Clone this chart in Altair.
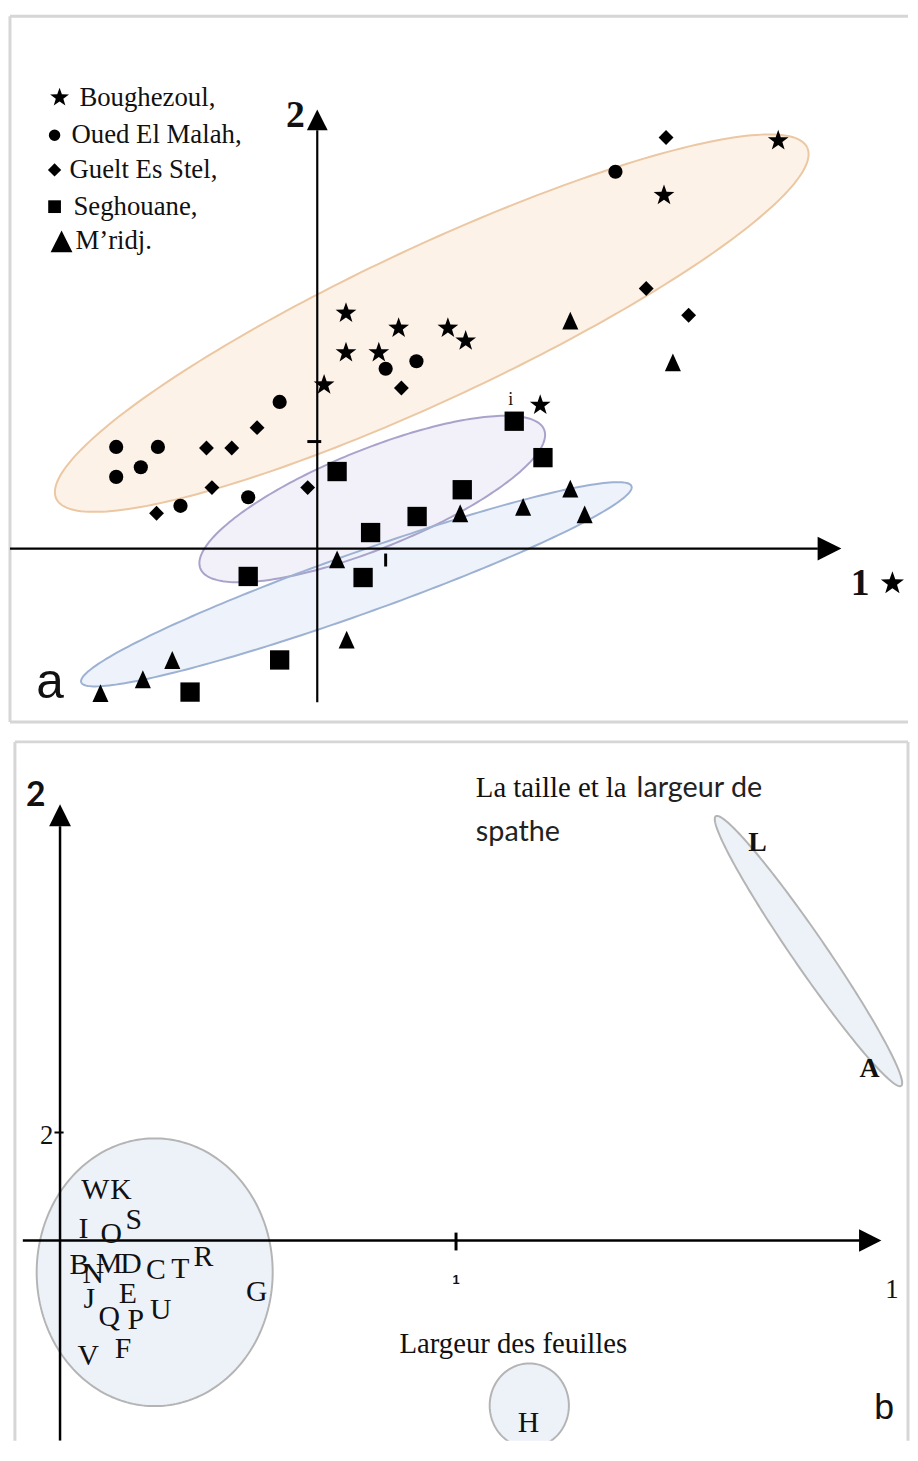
import math
import numpy as np
import pandas as pd
import altair as alt

# ======================= Panel a : individuals (axes 1 x 2) =======================
legend_labels = ["Boughezoul,", "Oued El Malah,", "Guelt Es Stel,", "Seghouane,", "M\u2019ridj."]

boughezoul_x = [6.74, 5.07, 0.42, 0.42, 1.19, 1.91, 2.17, 0.90, 0.10, 3.26]
boughezoul_y = [3.81, 3.30, 2.20, 1.83, 2.06, 2.06, 1.94, 1.83, 1.53, 1.34]
oued_x = [4.36, 1.00, 1.45, -0.55, -2.94, -2.33, -2.58, -2.94, -2.00, -1.01]
oued_y = [3.52, 1.68, 1.75, 1.37, 0.95, 0.95, 0.76, 0.67, 0.40, 0.48]
guelt_x = [5.10, 4.81, 5.43, 1.23, -0.88, -1.25, -1.62, -1.54, -2.35, -0.14]
guelt_y = [3.84, 2.43, 2.18, 1.50, 1.13, 0.94, 0.94, 0.57, 0.33, 0.57]
seghouane_x = [2.88, 3.30, 0.29, 2.12, 1.46, 0.78, 0.67, -1.01, -0.55, -1.86]
seghouane_y = [1.19, 0.85, 0.72, 0.55, 0.30, 0.15, -0.27, -0.26, -1.04, -1.34]
mridj_x = [3.70, 5.20, 3.70, 3.01, 3.91, 2.09, 0.29, 0.43, -2.12, -2.55, -3.17]
mridj_y = [2.13, 1.74, 0.56, 0.39, 0.32, 0.33, -0.10, -0.85, -1.04, -1.22, -1.35]

# groupings (ellipses): centre and two conjugate half-axes, in axis units
ell_a_cx = [1.674, 0.804, 0.572]
ell_a_cy = [2.106, 0.463, -0.333]
ell_a_u = [(5.49, 1.64), (2.513, 0.649), (4.023, 0.916)]
ell_a_v = [(0.473, -0.646), (0.271, -0.429), (0.149, -0.267)]
ell_a_fill = ["#fdf2e8", "#f2f0f8", "#eef3fb"]
ell_a_stroke = ["#ebc7a2", "#a9a3cb", "#9db2d3"]

# legend block (axis units)
leg_sym_x = [-3.768, -3.841, -3.841, -3.841, -3.739]
leg_txt_x = [-3.478, -3.594, -3.623, -3.565, -3.536]
leg_y = [4.213, 3.861, 3.537, 3.194, 2.870]

XD_A = [-4.493, 8.638]
YD_A = [-1.620, 4.972]

# ======================= Panel b : variables =======================
letters = ["W", "K", "S", "I", "O", "B", "N", "M", "D", "C", "T", "R", "G",
           "J", "E", "Q", "P", "U", "V", "F", "L", "A", "H"]
letter_x = [0.089, 0.154, 0.186, 0.059, 0.129, 0.049, 0.084, 0.124, 0.179, 0.242,
            0.304, 0.362, 0.497, 0.074, 0.171, 0.124, 0.191, 0.254, 0.071, 0.159,
            1.761, 2.044, 1.183]
letter_y = [0.468, 0.468, 0.193, 0.101, 0.055, -0.229, -0.312, -0.220, -0.220, -0.275,
            -0.266, -0.156, -0.477, -0.541, -0.495, -0.706, -0.734, -0.642, -1.073, -1.009,
            3.679, 1.587, -1.688]
letter_bold = ["L", "A"]

ell_b_cx = [0.239, 1.890, 1.185]
ell_b_cy = [-0.294, 2.679, -1.528]
ell_b_u = [(0.298, 0.0), (0.234, -1.248), (0.100, 0.0)]
ell_b_v = [(0.0, 1.239), (-0.035, -0.088), (0.0, 0.390)]

XD_B = [-0.1264, 2.1414]
YD_B = [-1.853, 4.615]
FRAME_B_LEFT = -0.1139

STAR = ("M0,-1L0.235,-0.324L0.951,-0.309L0.38,0.124L0.588,0.809L0,0.4"
        "L-0.588,0.809L-0.38,0.124L-0.951,-0.309L-0.235,-0.324Z")
TRI = "M0,-1L0.9,1L-0.9,1Z"
TRI_L = "M0,-1L1,1L-1,1Z"
ARROW_UP = "M0,-1L1,1L-1,1Z"
ARROW_RIGHT = "M1,0L-1,-1L-1,1Z"
FRAME = "#d6d6d6"


def enc(xd, yd):
    X = alt.X("x:Q", scale=alt.Scale(domain=xd, nice=False, zero=False), axis=None)
    Y = alt.Y("y:Q", scale=alt.Scale(domain=yd, nice=False, zero=False), axis=None)
    return X, Y


def ellipse_band(cx, cy, u, v, n=181):
    ux, uy = u
    vx, vy = v
    R = math.hypot(ux, vx)
    phi = math.atan2(vx, ux)
    s = np.linspace(0, math.pi, n)
    t1 = phi + s
    t2 = phi - s
    return pd.DataFrame({
        "x": cx + R * np.cos(s),
        "y": cy + uy * np.cos(t1) + vy * np.sin(t1),
        "y2": cy + uy * np.cos(t2) + vy * np.sin(t2),
    })


def ellipse_ring(cx, cy, u, v, n=241):
    t = np.linspace(0, 2 * math.pi, n)
    return pd.DataFrame({
        "i": np.arange(n),
        "x": cx + u[0] * np.cos(t) + v[0] * np.sin(t),
        "y": cy + u[1] * np.cos(t) + v[1] * np.sin(t),
    })


def points(df, shape, size, X, Y):
    return alt.Chart(df).mark_point(shape=shape, size=size, filled=True, color="black",
                                    opacity=1, strokeWidth=0).encode(x=X, y=Y)


def texts(df, X, Y, color="#111111", **kw):
    return alt.Chart(df).mark_text(color=color, baseline="middle", **kw).encode(
        x=X, y=Y, text="t:N")


def rules(df, X, Y, color="black", clip=False):
    return alt.Chart(df).mark_rule(color=color, clip=clip).encode(
        x=X, x2="x2:Q", y=Y, y2="y2:Q",
        strokeWidth=alt.StrokeWidth("w:Q", scale=None))


# ---------------- build panel a ----------------
XA, YA = enc(XD_A, YD_A)
layers_a = []
frame_a = pd.DataFrame({"x": [XD_A[0], XD_A[0], XD_A[0]],
                        "x2": [XD_A[1], XD_A[0], XD_A[1]],
                        "y": [YD_A[1], YD_A[0], YD_A[0]],
                        "y2": [YD_A[1], YD_A[1], YD_A[0]],
                        "w": [3, 3, 3]})
layers_a.append(rules(frame_a, XA, YA, color=FRAME))
for k in range(3):
    band = ellipse_band(ell_a_cx[k], ell_a_cy[k], ell_a_u[k], ell_a_v[k])
    layers_a.append(alt.Chart(band).mark_area(color=ell_a_fill[k], opacity=1, orient="vertical")
                    .encode(x=XA, y=YA, y2="y2:Q"))
for k in range(3):
    ring = ellipse_ring(ell_a_cx[k], ell_a_cy[k], ell_a_u[k], ell_a_v[k])
    layers_a.append(alt.Chart(ring).mark_line(color=ell_a_stroke[k], strokeWidth=2)
                    .encode(x=XA, y=YA, order="i:Q"))

axis_a = pd.DataFrame({"x": [XD_A[0], 0.0, 1.0, -0.145],
                       "x2": [7.32, 0.0, 1.0, 0.058],
                       "y": [0.0, -1.435, -0.046, 1.0],
                       "y2": [0.0, 3.907, -0.167, 1.0],
                       "w": [2.2, 2.2, 3, 3]})
layers_a.append(rules(axis_a, XA, YA))
layers_a.append(points(pd.DataFrame({"x": [0.0], "y": [4.005]}), ARROW_UP, 441, XA, YA))
layers_a.append(points(pd.DataFrame({"x": [7.49], "y": [0.0]}), ARROW_RIGHT, 576, XA, YA))

groups = [(boughezoul_x, boughezoul_y, STAR, 484),
          (oued_x, oued_y, "circle", 205),
          (guelt_x, guelt_y, "diamond", 225),
          (seghouane_x, seghouane_y, "square", 380),
          (mridj_x, mridj_y, TRI, 324)]
for gx, gy, shp, sz in groups:
    layers_a.append(points(pd.DataFrame({"x": gx, "y": gy}), shp, sz, XA, YA))

leg_shapes = [(STAR, 400), ("circle", 135), ("diamond", 180), ("square", 165), (TRI_L, 484)]
for k, (shp, sz) in enumerate(leg_shapes):
    layers_a.append(points(pd.DataFrame({"x": [leg_sym_x[k]], "y": [leg_y[k]]}), shp, sz, XA, YA))
layers_a.append(texts(pd.DataFrame({"x": leg_txt_x, "y": leg_y, "t": legend_labels}), XA, YA,
                      font="Liberation Serif", fontSize=27, align="left"))

layers_a.append(texts(pd.DataFrame({"x": [-0.319, 7.94], "y": [4.037, -0.333], "t": ["2", "1"]}),
                      XA, YA, font="Liberation Serif", fontSize=38, fontWeight="bold", align="center"))
layers_a.append(points(pd.DataFrame({"x": [8.41], "y": [-0.324]}), STAR, 600, XA, YA))
layers_a.append(texts(pd.DataFrame({"x": [-3.906], "y": [-1.259], "t": ["a"]}), XA, YA,
                      font="Liberation Sans", fontSize=50, align="center"))
layers_a.append(texts(pd.DataFrame({"x": [2.83], "y": [1.39], "t": ["i"]}), XA, YA,
                      font="Liberation Serif", fontSize=18, align="center"))

panel_a = alt.layer(*layers_a).properties(width=906, height=712)

# ---------------- build panel b ----------------
XB, YB = enc(XD_B, YD_B)
layers_b = []
frame_b = pd.DataFrame({"x": [FRAME_B_LEFT, FRAME_B_LEFT, XD_B[1]],
                        "x2": [XD_B[1], FRAME_B_LEFT, XD_B[1]],
                        "y": [YD_B[1], YD_B[0], YD_B[0]],
                        "y2": [YD_B[1], YD_B[1], YD_B[1]],
                        "w": [3, 3, 3]})
layers_b.append(rules(frame_b, XB, YB, color=FRAME))
for k in range(3):
    band = ellipse_band(ell_b_cx[k], ell_b_cy[k], ell_b_u[k], ell_b_v[k])
    layers_b.append(alt.Chart(band).mark_area(color="#edf2f9", opacity=1, orient="vertical", clip=True)
                    .encode(x=XB, y=YB, y2="y2:Q"))
    ring = ellipse_ring(ell_b_cx[k], ell_b_cy[k], ell_b_u[k], ell_b_v[k])
    layers_b.append(alt.Chart(ring).mark_line(color="#b4b4b4", strokeWidth=2, clip=True)
                    .encode(x=XB, y=YB, order="i:Q"))

axis_b = pd.DataFrame({"x": [-0.094, 0.0, 1.0, -0.014],
                       "x2": [2.019, 0.0, 1.0, 0.009],
                       "y": [0.0, YD_B[0], 0.073, 1.0],
                       "y2": [0.0, 3.835, -0.092, 1.0],
                       "w": [2.5, 2.5, 3, 2]})
layers_b.append(rules(axis_b, XB, YB, clip=True))
layers_b.append(points(pd.DataFrame({"x": [0.0], "y": [3.936]}), ARROW_UP, 484, XB, YB))
layers_b.append(points(pd.DataFrame({"x": [2.046], "y": [0.0]}), ARROW_RIGHT, 506, XB, YB))

let_df = pd.DataFrame({"x": letter_x, "y": letter_y, "t": letters})
reg = let_df[~let_df["t"].isin(letter_bold)]
bold = let_df[let_df["t"].isin(letter_bold)]
layers_b.append(texts(reg, XB, YB, font="Liberation Serif", fontSize=30, align="center"))
layers_b.append(texts(bold, XB, YB, font="Liberation Serif", fontSize=28, fontWeight="bold",
                      align="center"))

layers_b.append(texts(pd.DataFrame({"x": [1.050, 0.857], "y": [4.190, -0.963],
                                    "t": ["La taille et la", "Largeur des feuilles"]}),
                      XB, YB, font="Liberation Serif", fontSize=29, align="left"))
layers_b.append(texts(pd.DataFrame({"x": [1.456, 1.050], "y": [4.190, 3.780],
                                    "t": ["largeur de", "spathe"]}),
                      XB, YB, color="#222222", font="Lato", fontSize=29, align="left"))
layers_b.append(texts(pd.DataFrame({"x": [2.081], "y": [-1.550], "t": ["b"]}), XB, YB,
                      font="Liberation Sans", fontSize=36, align="center"))
layers_b.append(texts(pd.DataFrame({"x": [2.101, -0.034], "y": [-0.459, 0.963], "t": ["1", "2"]}),
                      XB, YB, font="Liberation Serif", fontSize=27, align="center"))
layers_b.append(texts(pd.DataFrame({"x": [1.0], "y": [-0.367], "t": ["1"]}), XB, YB,
                      font="Liberation Sans", fontSize=13, fontWeight="bold", align="center"))
layers_b.append(texts(pd.DataFrame({"x": [-0.061], "y": [4.110], "t": ["2"]}), XB, YB,
                      font="Lato", fontSize=34, fontWeight="bold", align="center"))

panel_b = alt.layer(*layers_b).properties(width=906, height=705)

chart = alt.vconcat(panel_a, panel_b, spacing=20, bounds="flush").properties(
    padding=0).configure_view(stroke="transparent")

chart.save("out.html", embed_options={"renderer": "svg", "actions": False})
